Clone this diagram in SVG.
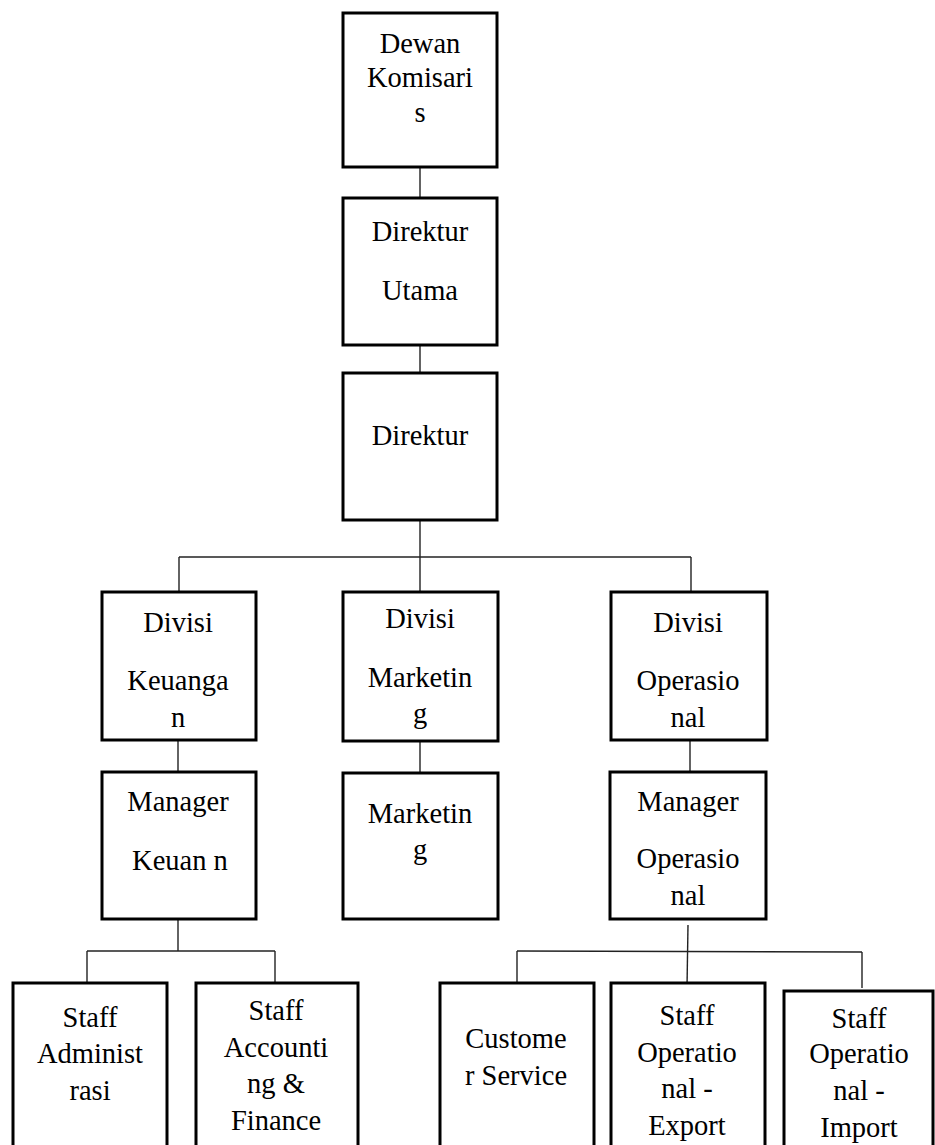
<svg xmlns="http://www.w3.org/2000/svg" width="935" height="1145" viewBox="0 0 935 1145">
<style>
.box{fill:#fff;stroke:#000;stroke-width:3}
.ln{stroke:#222;stroke-width:1.4;fill:none}
text{font-family:"Liberation Serif","Times New Roman",serif;font-size:28.5px;fill:#000;text-anchor:middle}
</style>
<rect width="935" height="1145" fill="#fff"/>
<g id="connectors">
<line class="ln" x1="420" y1="167" x2="420" y2="198"/>
<line class="ln" x1="420" y1="345" x2="420" y2="373"/>
<line class="ln" x1="420" y1="520" x2="420" y2="592"/>
<line class="ln" x1="179" y1="557" x2="691" y2="557"/>
<line class="ln" x1="179" y1="557" x2="179" y2="592"/>
<line class="ln" x1="691" y1="557" x2="691" y2="592"/>
<line class="ln" x1="178" y1="740" x2="178" y2="772"/>
<line class="ln" x1="420" y1="741" x2="420" y2="774"/>
<line class="ln" x1="690" y1="740" x2="690" y2="772"/>
<line class="ln" x1="178" y1="919" x2="178" y2="951"/>
<line class="ln" x1="87" y1="951" x2="275" y2="951"/>
<line class="ln" x1="87" y1="951" x2="87" y2="983"/>
<line class="ln" x1="275" y1="951" x2="275" y2="983"/>
<line class="ln" x1="688" y1="925" x2="687" y2="987"/>
<line class="ln" x1="517" y1="951" x2="862" y2="952"/>
<line class="ln" x1="517" y1="951" x2="517" y2="987"/>
<line class="ln" x1="862" y1="952" x2="862" y2="988"/>
</g>
<g id="dewan-komisaris">
<rect class="box" x="343" y="13" width="154" height="154"/>
<text x="420" y="53">Dewan</text>
<text x="420" y="87">Komisari</text>
<text x="420" y="122">s</text>
</g>
<g id="direktur-utama">
<rect class="box" x="343" y="198" width="154" height="147"/>
<text x="420" y="241">Direktur</text>
<text x="420" y="300">Utama</text>
</g>
<g id="direktur">
<rect class="box" x="343" y="373" width="154" height="147"/>
<text x="420" y="445">Direktur</text>
</g>
<g id="divisi-keuangan">
<rect class="box" x="102" y="592" width="154" height="148"/>
<text x="178" y="632">Divisi</text>
<text x="178" y="690">Keuanga</text>
<text x="178" y="727">n</text>
</g>
<g id="divisi-marketing">
<rect class="box" x="343" y="592" width="155" height="149"/>
<text x="420" y="628">Divisi</text>
<text x="420" y="687">Marketin</text>
<text x="420" y="723">g</text>
</g>
<g id="divisi-operasional">
<rect class="box" x="611" y="592" width="156" height="148"/>
<text x="688" y="632">Divisi</text>
<text x="688" y="690">Operasio</text>
<text x="688" y="727">nal</text>
</g>
<g id="manager-keuangan">
<rect class="box" x="102" y="772" width="154" height="147"/>
<text x="178" y="811">Manager</text>
<text x="180" y="870">Keuan n</text>
</g>
<g id="marketing">
<rect class="box" x="343" y="773" width="155" height="146"/>
<text x="420" y="823">Marketin</text>
<text x="420" y="859">g</text>
</g>
<g id="manager-operasional">
<rect class="box" x="610" y="772" width="156" height="147"/>
<text x="688" y="811">Manager</text>
<text x="688" y="868">Operasio</text>
<text x="688" y="905">nal</text>
</g>
<g id="staff-administrasi">
<rect class="box" x="13" y="983" width="154" height="170"/>
<text x="90" y="1027">Staff</text>
<text x="90" y="1063">Administ</text>
<text x="90" y="1100">rasi</text>
</g>
<g id="staff-accounting">
<rect class="box" x="196" y="983" width="162" height="170"/>
<text x="276" y="1020">Staff</text>
<text x="276" y="1057">Accounti</text>
<text x="276" y="1093">ng &amp;</text>
<text x="276" y="1130">Finance</text>
</g>
<g id="customer-service">
<rect class="box" x="440" y="983" width="154" height="170"/>
<text x="516" y="1048">Custome</text>
<text x="516" y="1085">r Service</text>
</g>
<g id="staff-export">
<rect class="box" x="611" y="983" width="154" height="170"/>
<text x="687" y="1025">Staff</text>
<text x="687" y="1062">Operatio</text>
<text x="687" y="1098">nal -</text>
<text x="687" y="1135">Export</text>
</g>
<g id="staff-import">
<rect class="box" x="784" y="991" width="149" height="170"/>
<text x="859" y="1028">Staff</text>
<text x="859" y="1063">Operatio</text>
<text x="859" y="1100">nal -</text>
<text x="859" y="1137">Import</text>
</g>
</svg>
